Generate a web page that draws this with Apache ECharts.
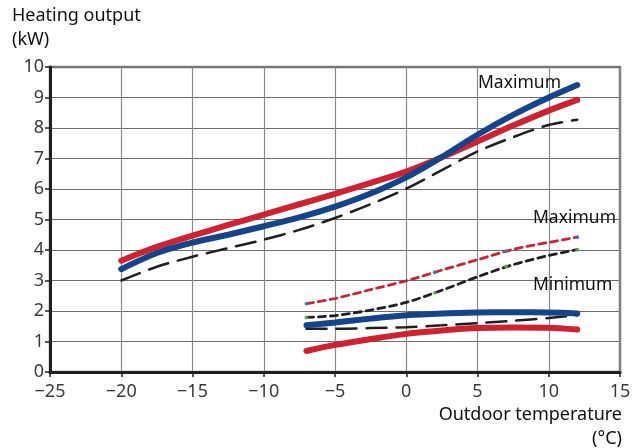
<!DOCTYPE html>
<html>
<head>
<meta charset="utf-8">
<script src="https://cdn.jsdelivr.net/npm/echarts@6/dist/echarts.min.js"></script>
<style>html,body{margin:0;padding:0;background:#fff}#c{width:640px;height:448px}</style>
</head>
<body>
<div id="c"></div>
<script>
// Outdoor temperature (°C) / heating output (kW)
var upperBlue   = [[-20,3.37],[-17.5,3.9],[-15,4.24],[-12.5,4.5],[-10,4.78],[-7.5,5.07],[-5,5.42],[-2.5,5.85],[0,6.38],[2.5,7.05],[5,7.78],[7.5,8.43],[10,9.0],[12,9.41]];
var upperRed    = [[-20,3.65],[-17.5,4.1],[-15,4.47],[-12.5,4.82],[-10,5.16],[-7.5,5.5],[-5,5.84],[-2.5,6.2],[0,6.57],[2.5,7.04],[5,7.56],[7.5,8.08],[10,8.57],[12,8.92]];
var upperDash   = [[-20,3.0],[-17.5,3.45],[-15,3.78],[-12.5,4.06],[-10,4.34],[-7.5,4.66],[-5,5.05],[-2.5,5.5],[0,6.01],[2.5,6.62],[5,7.23],[7.5,7.7],[10,8.1],[12,8.27]];
var maxDotRed   = [[-7,2.24],[-5,2.41],[-2.5,2.7],[0,2.99],[2.5,3.34],[5,3.68],[7.5,4.02],[10,4.25],[12,4.42]];
var maxDotBlack = [[-7,1.79],[-5,1.85],[-2.5,2.03],[0,2.28],[2.5,2.68],[5,3.12],[7.5,3.52],[10,3.82],[12,4.01]];
var lowerBlue   = [[-7,1.53],[-5,1.62],[-2.5,1.75],[0,1.86],[2.5,1.92],[5,1.95],[7.5,1.96],[10,1.95],[12,1.92]];
var lowerDash   = [[-7,1.42],[-5,1.42],[-2.5,1.44],[0,1.47],[2.5,1.53],[5,1.6],[7.5,1.68],[10,1.77],[12,1.86]];
var lowerRed    = [[-7,0.69],[-5,0.89],[-2.5,1.08],[0,1.25],[2.5,1.36],[5,1.44],[7.5,1.46],[10,1.45],[12,1.39]];
var dotMarksRed   = [[-7,2.24],[2,3.27],[7,3.96],[12,4.42]];
var dotMarksBlack = [[-7,1.79],[2,2.6],[7,3.46],[12,4.01]];
var xTicks = [-25,-20,-15,-10,-5,0,5,10,15];
var yTicks = [0,1,2,3,4,5,6,7,8,9,10];

var BLUE = '#14458a', RED = '#cf2130', BLACK = '#1f1f1f';
var FONT = 'Noto Sans';

function line(data, color, width, type, z) {
  return {type:'line', data:data, smooth:0.3, showSymbol:false, symbol:'none', z:z||2,
    lineStyle:{color:color, width:width, type:type||'solid', cap:'round'}, silent:true};
}

var chart = echarts.init(document.getElementById('c'), null, {renderer:'canvas'});
chart.setOption({
  animation:false,
  backgroundColor:'#ffffff',
  grid:{left:50, right:20, top:67, bottom:76, show:true, borderColor:'#7a7a7a', borderWidth:2.5, backgroundColor:'transparent'},
  xAxis:{type:'value', min:xTicks[0], max:xTicks[xTicks.length-1], interval:5,
    axisLine:{show:true, onZero:false, lineStyle:{color:BLACK, width:3}},
    axisTick:{show:true, length:5, lineStyle:{color:BLACK, width:1.5}},
    axisLabel:{color:'#3a3a3a', fontFamily:FONT, fontSize:18, margin:11,
      formatter:function(v){return String(v).replace('-', '\u2212');}},
    splitLine:{show:true, lineStyle:{color:'#8a8a8a', width:1.2}}},
  yAxis:{type:'value', min:yTicks[0], max:yTicks[yTicks.length-1], interval:1,
    axisLine:{show:true, onZero:false, lineStyle:{color:BLACK, width:3}},
    axisTick:{show:true, length:5, lineStyle:{color:BLACK, width:1.5}},
    axisLabel:{color:'#3a3a3a', fontFamily:FONT, fontSize:18, margin:6},
    splitLine:{show:true, lineStyle:{color:'#6e6e6e', width:1.2}}},
  series:[
    line(upperDash, BLACK, 2.5, [20,10], 2),
    line(upperRed, RED, 6, 'solid', 3),
    line(upperBlue, BLUE, 6, 'solid', 4),
    line(maxDotRed, RED, 2.8, [7,5], 3),
    line(maxDotBlack, BLACK, 2.8, [7,5], 3),
    line(lowerDash, BLACK, 2.5, [20,10], 3),
    line(lowerRed, RED, 6, 'solid', 3),
    line(lowerBlue, BLUE, 6, 'solid', 4),
    {type:'scatter', data:dotMarksRed, symbolSize:4, itemStyle:{color:'#3a7bd5'}, z:6, silent:true},
    {type:'scatter', data:dotMarksBlack, symbolSize:4, itemStyle:{color:'#5fb84a'}, z:6, silent:true}
  ],
  graphic:[
    {type:'text', left:12, top:7, style:{text:'Heating output', fill:'#111', font:'18px "Noto Sans"'}},
    {type:'text', left:12, top:31, style:{text:'(kW)', fill:'#111', font:'18px "Noto Sans"'}},
    {type:'text', right:18, top:406, style:{text:'Outdoor temperature', fill:'#111', font:'18px "Noto Sans"'}},
    {type:'text', right:18, top:430, style:{text:'(°C)', fill:'#111', font:'18px "Noto Sans"'}},
    {type:'text', left:478, top:74, z:10, style:{text:'Maximum', fill:'#111', font:'17.5px "Noto Sans"'}},
    {type:'text', left:533, top:209, z:10, style:{text:'Maximum', fill:'#111', font:'17.5px "Noto Sans"'}},
    {type:'text', left:533, top:276, z:10, style:{text:'Minimum', fill:'#111', font:'17.5px "Noto Sans"'}}
  ]
});
</script>
</body>
</html>
